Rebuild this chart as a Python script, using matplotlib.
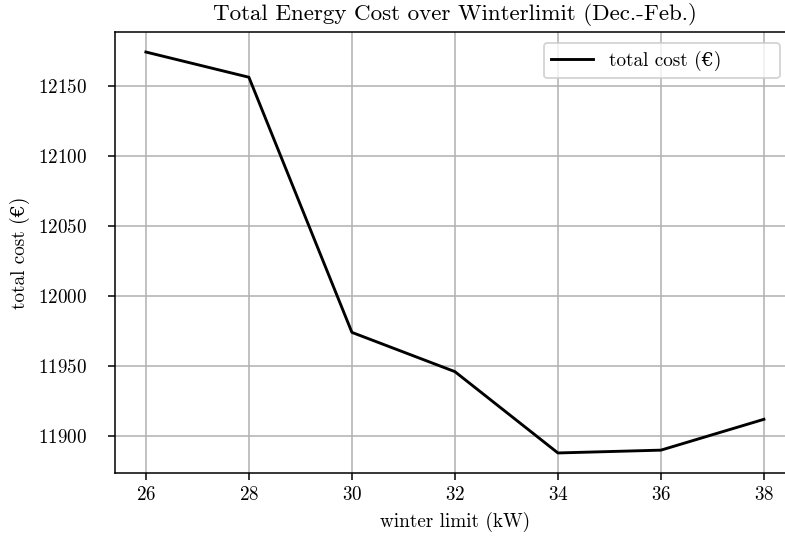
import matplotlib
matplotlib.use("Agg")
import matplotlib.pyplot as plt

# winter limit (kW) vs total cost (EUR)
winter_limit = [26, 28, 30, 32, 34, 36, 38]
total_cost = [12174, 12156, 11974, 11946, 11888, 11890, 11912]
cost_ticks = [11900, 11950, 12000, 12050, 12100, 12150]

plt.rcParams['font.family'] = ['cmr10', 'DejaVu Serif']
plt.rcParams['mathtext.fontset'] = 'cm'
plt.rcParams['axes.formatter.use_mathtext'] = True
plt.rcParams['font.size'] = 10

DPI = 138
fig = plt.figure(figsize=(785 / DPI, 541 / DPI), dpi=DPI)
# right edge of the axes runs slightly past the figure (tight crop in original)
ax = fig.add_axes([0.1465, 0.1257, 0.866, 0.8152])
# trailing spaces reproduce the wide legend box of the original
ax.plot(winter_limit, total_cost, color='black', linewidth=1.5, label='total cost (€)' + ' ' * 8)
ax.set_xticks(winter_limit)
ax.set_yticks(cost_ticks)
ax.tick_params(axis='y', pad=11)
ax.grid(True, color='#b0b0b0', linewidth=0.8)
ax.set_xlabel('winter limit (kW)')
ax.set_ylabel('total cost (€)', labelpad=4)
ax.set_title('Total Energy Cost over Winterlimit (Dec.-Feb.)')
ax.legend(loc='upper right', handlelength=2.2, borderaxespad=0, bbox_to_anchor=(0.978, 0.975))
fig.savefig('out.png', dpi=DPI)
